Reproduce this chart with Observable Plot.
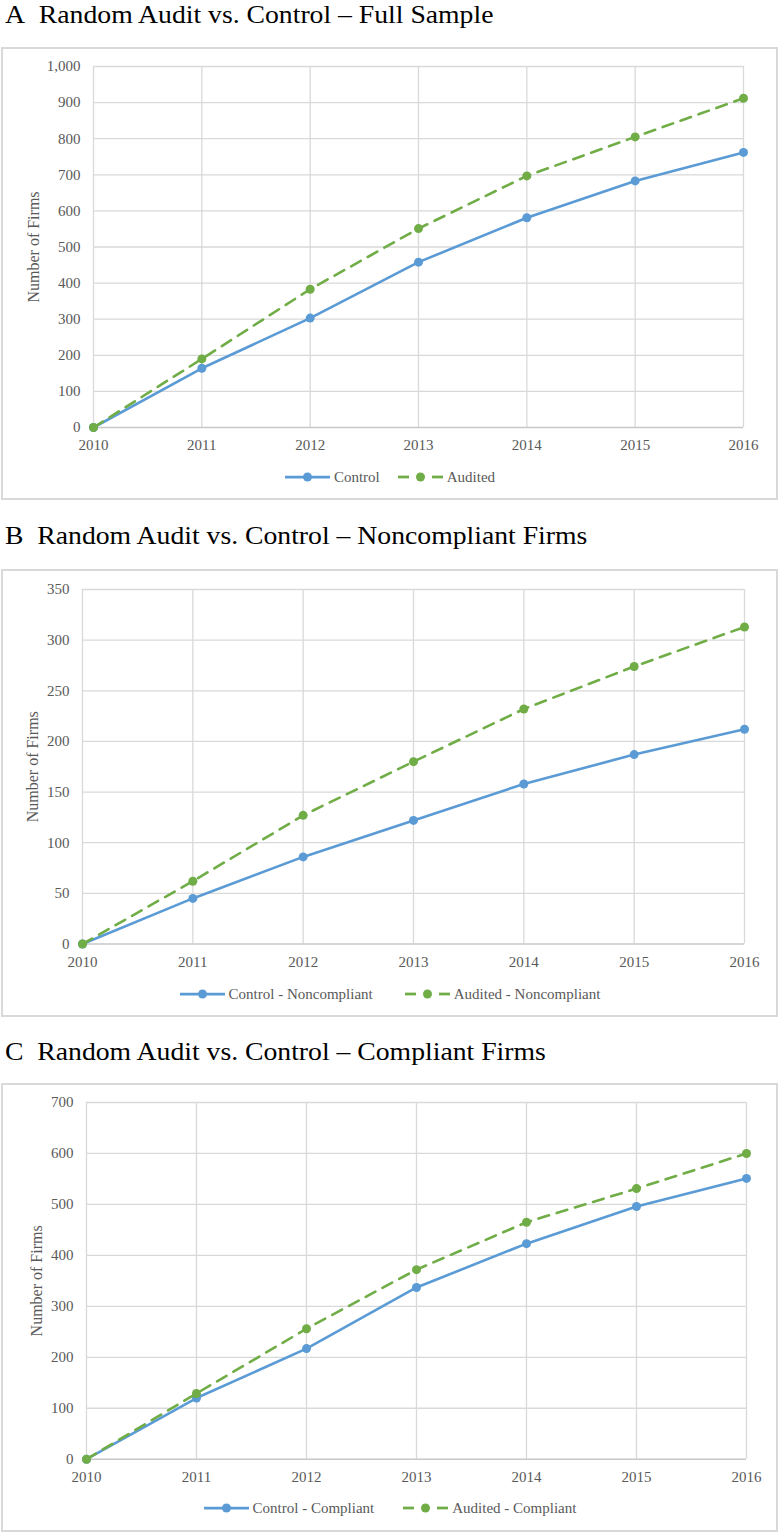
<!DOCTYPE html>
<html>
<head>
<meta charset="utf-8">
<script src="https://cdn.jsdelivr.net/npm/d3@7"></script>
<script src="https://cdn.jsdelivr.net/npm/@observablehq/plot@0.6"></script>
<style>
  html, body { margin: 0; padding: 0; background: #fff; }
  #page { position: relative; width: 780px; height: 1533px; font-family: "Liberation Serif", "Times New Roman", serif; overflow: hidden; }
  .title { position: absolute; left: 5px; font-size: 26px; line-height: 29px; color: #000; white-space: nowrap; transform: scaleX(1.065); transform-origin: 0 0; }
  .box { position: absolute; left: 1px; width: 777px; box-sizing: border-box; border: 2px solid #d9d9d9; }
  .plotwrap { position: absolute; left: 0; width: 780px; }
  .legend { position: absolute; left: 0; width: 780px; display: flex; justify-content: center; align-items: center; font-size: 15px; color: #595959; line-height: 18px; }
  .item { display: flex; align-items: center; }
  .item svg { margin-right: 4px; }
</style>
</head>
<body>
<div id="page"></div>
<script>
const years = [2010, 2011, 2012, 2013, 2014, 2015, 2016];

const controlFull = [0, 164, 303, 458, 581, 683, 762];
const auditedFull = [0, 190, 383, 551, 697, 805, 912];
const controlNon  = [0, 45, 86, 122, 158, 187, 212];
const auditedNon  = [0, 62, 127, 180, 232, 274, 313];
const controlComp = [0, 120, 217, 337, 423, 496, 551];
const auditedComp = [0, 129, 256, 372, 465, 531, 600];

const ticksFull = [0, 100, 200, 300, 400, 500, 600, 700, 800, 900, 1000];
const ticksNon  = [0, 50, 100, 150, 200, 250, 300, 350];
const ticksComp = [0, 100, 200, 300, 400, 500, 600, 700];

const titles = [
  "A\u2002Random Audit vs. Control \u2013 Full Sample",
  "B\u2002Random Audit vs. Control \u2013 Noncompliant Firms",
  "C\u2002Random Audit vs. Control \u2013 Compliant Firms"
];
const legendNames = [
  ["Control", "Audited"],
  ["Control - Noncompliant", "Audited - Noncompliant"],
  ["Control - Compliant", "Audited - Compliant"]
];
const yLabel = "Number of Firms";

const BLUE = "#5B9BD5";
const GREEN = "#70AD47";
const GRID = "#d9d9d9";
const TEXT = "#595959";

const page = document.getElementById("page");

const layouts = [
  { titleTop: 0, boxTop: 47, boxH: 453, svgTop: 48, svgH: 412, mt: 18, mb: 33, ml: 93, mr: 37, labelDx: -60, legendY: 477, gap: 18 },
  { titleTop: 521, boxTop: 569, boxH: 448, svgTop: 570, svgH: 410, mt: 19, mb: 36.5, ml: 82, mr: 36, labelDx: -50, legendY: 994, gap: 32 },
  { titleTop: 1037, boxTop: 1083, boxH: 449, svgTop: 1084, svgH: 410, mt: 18, mb: 35.3, ml: 86, mr: 34, labelDx: -50, legendY: 1508, gap: 29 }
];

const series = [
  [controlFull, auditedFull, ticksFull],
  [controlNon, auditedNon, ticksNon],
  [controlComp, auditedComp, ticksComp]
];

function el(tag, cls, style) {
  const e = document.createElement(tag);
  if (cls) e.className = cls;
  if (style) Object.assign(e.style, style);
  return e;
}

function swatch(color, dashed) {
  const ns = "http://www.w3.org/2000/svg";
  const s = document.createElementNS(ns, "svg");
  s.setAttribute("width", 45);
  s.setAttribute("height", 12);
  const segs = dashed ? [[0, 11], [34, 45]] : [[0, 45]];
  for (const [x1, x2] of segs) {
    const l = document.createElementNS(ns, "line");
    l.setAttribute("x1", x1); l.setAttribute("x2", x2);
    l.setAttribute("y1", 6); l.setAttribute("y2", 6);
    l.setAttribute("stroke", color); l.setAttribute("stroke-width", 2.75);
    s.appendChild(l);
  }
  const c = document.createElementNS(ns, "circle");
  c.setAttribute("cx", 22.5); c.setAttribute("cy", 6); c.setAttribute("r", 4.5);
  c.setAttribute("fill", color);
  s.appendChild(c);
  return s;
}

layouts.forEach((L, i) => {
  const [ctrl, aud, yTicks] = series[i];
  const ctrlData = years.map((year, k) => ({ year, value: ctrl[k] }));
  const audData = years.map((year, k) => ({ year, value: aud[k] }));

  const t = el("div", "title", { top: L.titleTop + "px" });
  t.textContent = titles[i];
  page.appendChild(t);

  const box = el("div", "box", { top: L.boxTop + "px", height: L.boxH + "px" });
  page.appendChild(box);

  const chart = Plot.plot({
    width: 780,
    height: L.svgH,
    marginTop: L.mt,
    marginBottom: L.mb,
    marginLeft: L.ml,
    marginRight: L.mr,
    style: { fontFamily: "Liberation Serif, Times New Roman, serif", fontSize: "15px", color: TEXT, background: "transparent", overflow: "visible" },
    x: { type: "linear", domain: [years[0], years[years.length - 1]] },
    y: { domain: [0, yTicks[yTicks.length - 1]] },
    marks: [
      Plot.ruleX(years, { stroke: GRID, strokeWidth: 1.3 }),
      Plot.ruleY(yTicks.slice(1), { stroke: GRID, strokeWidth: 1.3 }),
      Plot.ruleY([0], { stroke: "#c8c8c8", strokeWidth: 1.4 }),
      Plot.axisX({ ticks: years, tickSize: 0, tickPadding: 12, tickFormat: d => String(d), label: null, fontSize: 15, fill: TEXT }),
      Plot.axisY({ ticks: yTicks, tickSize: 0, tickPadding: 13, tickFormat: d3.format(","), label: null, fontSize: 15, fill: TEXT }),
      Plot.text([yLabel], { frameAnchor: "left", textAnchor: "middle", lineAnchor: "middle", dx: L.labelDx, rotate: -90, fontSize: 16, fill: TEXT }),
      Plot.line(ctrlData, { x: "year", y: "value", stroke: BLUE, strokeWidth: 2.6 }),
      Plot.dot(ctrlData, { x: "year", y: "value", r: 4.5, fill: BLUE }),
      Plot.line(audData, { x: "year", y: "value", stroke: GREEN, strokeWidth: 2.6, strokeDasharray: "11,8" }),
      Plot.dot(audData, { x: "year", y: "value", r: 4.5, fill: GREEN })
    ]
  });
  const wrap = el("div", "plotwrap", { top: L.svgTop + "px", height: L.svgH + "px" });
  wrap.appendChild(chart);
  page.appendChild(wrap);

  const leg = el("div", "legend", { top: (L.legendY - 9) + "px", gap: L.gap + "px" });
  [[BLUE, false], [GREEN, true]].forEach(([color, dashed], k) => {
    const it = el("div", "item");
    it.appendChild(swatch(color, dashed));
    const sp = el("span");
    sp.textContent = legendNames[i][k];
    it.appendChild(sp);
    leg.appendChild(it);
  });
  page.appendChild(leg);
});
</script>
</body>
</html>
